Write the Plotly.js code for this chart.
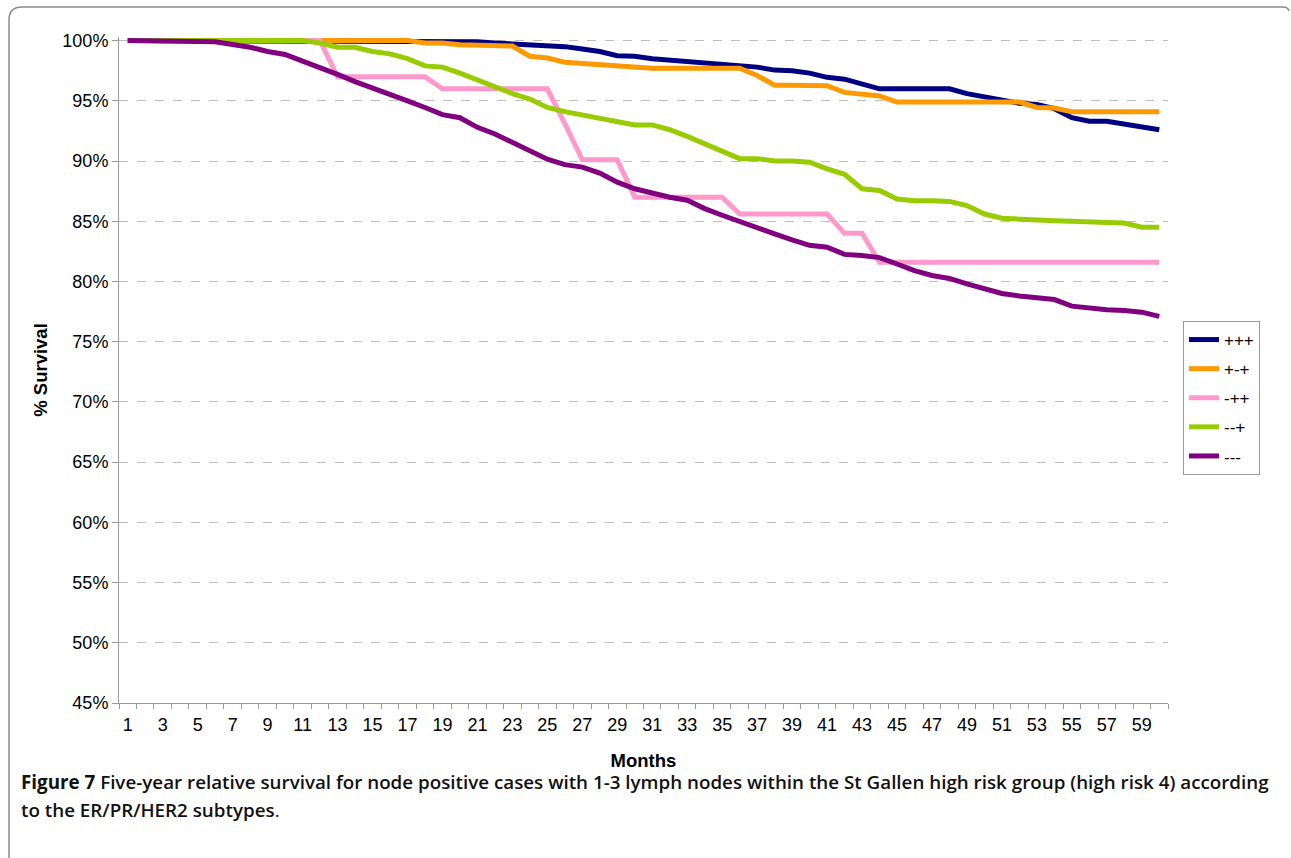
<!DOCTYPE html>
<html>
<head>
<meta charset="utf-8">
<script src="https://cdn.plot.ly/plotly-3.0.1.min.js"></script>
<style>
  html, body { margin: 0; padding: 0; background: #fff; }
  #chart { width: 1291px; height: 858px; }
</style>
</head>
<body>
<div id="chart"></div>
<script>
const months = [1,2,3,4,5,6,7,8,9,10,11,12,13,14,15,16,17,18,19,20,
  21,22,23,24,25,26,27,28,29,30,31,32,33,34,35,36,37,38,39,40,
  41,42,43,44,45,46,47,48,49,50,51,52,53,54,55,56,57,58,59,60];

const tickMonths = [1,3,5,7,9,11,13,15,17,19,21,23,25,27,29,31,33,35,37,39,41,43,45,47,49,51,53,55,57,59];

const seriesNames = ["+++", "+-+", "-++", "--+", "---"];

const survPPP = [100,100,100,100,100,100,100,100,100,100,100,100,100,100,100,100,100,100,100,99.9,
  99.9,99.8,99.75,99.65,99.65,99.5,99.3,99.1,98.75,98.7,98.5,98.4,98.3,98.2,98.05,98.0,97.8,97.55,97.5,97.3,
  96.95,96.8,96.35,96.0,96.0,96.0,96.0,96.0,95.6,95.35,95.0,94.8,94.7,94.35,93.6,93.3,93.3,93.1,92.8,92.6];

const survPMP = [100,100,100,100,100,100,100,100,100,100,100,100,100,100,100,100,100,99.8,99.8,99.65,
  99.6,99.55,99.55,98.7,98.55,98.2,98.1,98.0,97.9,97.7,97.7,97.7,97.7,97.7,97.7,97.7,97.1,96.3,96.3,96.3,
  96.25,95.7,95.5,95.4,94.9,94.9,94.9,94.9,94.9,94.9,94.9,94.9,94.45,94.4,94.1,94.1,94.1,94.1,94.1,94.1];

const survMPP = [100,100,100,100,100,100,100,100,100,100,100,100,97.0,97.0,97.0,97.0,97.0,97.0,96.0,96.0,
  96.0,96.0,96.0,96.0,96.0,93.1,90.1,90.1,90.1,87.0,87.0,87.0,87.0,87.0,87.0,85.6,85.6,85.6,85.6,85.6,
  85.6,84.0,84.0,81.6,81.6,81.6,81.6,81.6,81.6,81.6,81.6,81.6,81.6,81.6,81.6,81.6,81.6,81.6,81.6,81.6];

const survMMP = [100,100,100,100,100,100,100,100,100,100,100,99.8,99.45,99.45,99.1,98.9,98.5,97.9,97.8,97.3,
  96.7,96.1,95.6,95.15,94.45,94.1,93.8,93.5,93.2,93.0,93.0,92.6,92.05,91.45,90.8,90.2,90.2,90.0,90.0,89.9,
  89.35,88.9,87.7,87.55,86.85,86.7,86.7,86.65,86.3,85.6,85.25,85.15,85.1,85.05,85.0,84.9,84.9,84.85,84.5,84.5];

const survMMM = [100,100,100,100,100,99.9,99.67,99.45,99.1,98.85,98.3,97.8,97.2,96.6,96.1,95.5,95.0,94.45,93.85,93.6,
  92.8,92.25,91.55,90.85,90.15,89.7,89.5,89.0,88.25,87.7,87.3,87.0,86.75,86.05,85.5,84.95,84.5,83.95,83.45,83.0,
  82.85,82.25,82.15,81.98,81.45,80.9,80.5,80.25,79.8,79.4,79.0,78.8,78.65,78.5,77.95,77.75,77.65,77.6,77.45,77.1];

const yTicks = [45,50,55,60,65,70,75,80,85,90,95,100];

const captionLine1 = "<b>Figure 7</b> Five-year relative survival for node positive cases with 1-3 lymph nodes within the St Gallen high risk group (high risk 4) according";
const captionLine2 = "to the ER/PR/HER2 subtypes<span style='font-weight:normal'>.</span>";

const allSeries = [survPPP, survPMP, survMPP, survMMP, survMMM];
const colors = ["#000080", "#FF9900", "#FF99CC", "#99CC00", "#800080"];

const traces = allSeries.map((ys, i) => ({
  type: "scatter",
  mode: "lines",
  x: months,
  y: ys,
  name: seriesNames[i],
  legendgroup: "g" + i,
  line: { color: colors[i], width: 5 },
  hoverinfo: "x+y+name"
}));

// pixel helpers for paper coordinates
const L = 119, R = 1168, T = 37, B = 703;
const px = p => (p - L) / (R - L);
const py = q => (B - q) / (B - T);

const ARIAL = "'Liberation Sans', Arial, sans-serif";
const capFont = { family: "'Open Sans', sans-serif", size: 18.8, color: "#111", weight: 600 };

const layout = {
  width: 1291,
  height: 858,
  margin: { l: L, r: 1291 - R, t: T, b: 858 - B, pad: 0 },
  paper_bgcolor: "#ffffff",
  plot_bgcolor: "#ffffff",
  font: { family: ARIAL, size: 17, color: "#000" },
  showlegend: true,
  legend: {
    x: px(1183), y: py(321), xanchor: "left", yanchor: "top",
    bordercolor: "#999", borderwidth: 1, bgcolor: "#fff",
    font: { family: ARIAL, size: 17, color: "#000" },
    traceorder: "grouped", tracegroupgap: 4,
    itemwidth: 30
  },
  xaxis: {
    type: "linear",
    range: [0.5, 60.5],
    tickmode: "array",
    tickvals: tickMonths,
    ticktext: tickMonths.map(String),
    ticks: "",
    ticklabelstandoff: 5,
    showgrid: false,
    zeroline: false,
    showline: true,
    linecolor: "#999",
    linewidth: 1,
    tickfont: { family: ARIAL, size: 18 },
    minor: { tickmode: "linear", tick0: 0.5, dtick: 1, ticks: "outside", ticklen: 5, tickcolor: "#999", showgrid: false },
    title: { text: "<b>Months</b>", font: { family: ARIAL, size: 18.5 }, standoff: 20 }
  },
  yaxis: {
    range: [45, 100.3],
    tickmode: "array",
    tickvals: yTicks,
    ticktext: yTicks.map(v => v + "%"),
    ticks: "outside",
    ticklen: 6,
    tickcolor: "#999",
    showgrid: true,
    gridcolor: "#bdbdbd",
    griddash: "dash",
    gridwidth: 1,
    zeroline: false,
    showline: true,
    linecolor: "#999",
    linewidth: 1,
    tickfont: { family: ARIAL, size: 18 },
    title: { text: "<b>% Survival</b>", font: { family: ARIAL, size: 18.5 }, standoff: 9 }
  },
  annotations: [
    {
      xref: "paper", yref: "paper",
      x: px(19), y: py(782), xanchor: "left", yanchor: "middle", align: "left",
      showarrow: false, text: captionLine1, font: capFont
    },
    {
      xref: "paper", yref: "paper",
      x: px(19), y: py(810), xanchor: "left", yanchor: "middle", align: "left",
      showarrow: false, text: captionLine2, font: capFont
    }
  ],
  shapes: [
    {
      type: "path", xref: "paper", yref: "paper",
      path: `M ${px(9)},${py(858)} L ${px(9)},${py(20)} Q ${px(9)},${py(7)} ${px(22)},${py(7)} L ${px(1283)},${py(7)} Q ${px(1288)},${py(7)} ${px(1289)},${py(11)}`,
      line: { color: "#8a8a8a", width: 1.5 }
    }
  ]
};

Plotly.newPlot("chart", traces, layout, { displayModeBar: false });
</script>
</body>
</html>
